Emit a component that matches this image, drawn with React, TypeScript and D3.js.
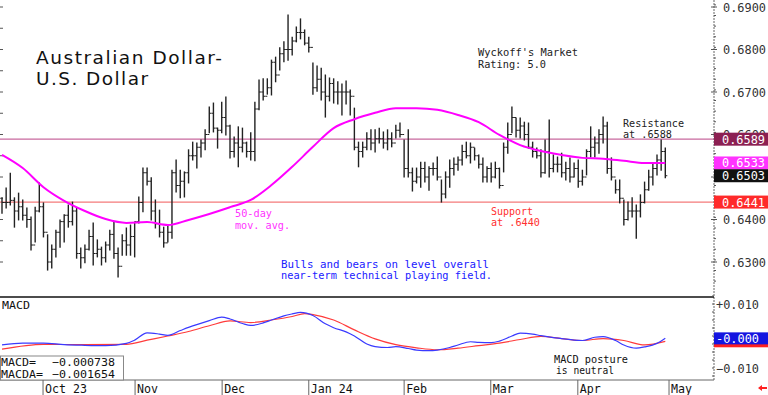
import * as d3 from "d3"

// daily bars, Sep 18 2023 .. Apr 30 2024 (one entry per bar)
const high = [
  .6451, .6474, .6509, .6451, .6462, .6446, .6427, .6406, .6429, .6486,
  .6439, .6364, .6340, .6375, .6399, .6411, .6434, .6441, .6427, .6333,
  .6340, .6375, .6392, .6352, .6335, .6347, .6375, .6394, .6333, .6364,
  .6380, .6387, .6394, .6453, .6521, .6521, .6498, .6446, .6422, .6382,
  .6387, .6516, .6540, .6516, .6512, .6564, .6582, .6580, .6587, .6611,
  .6665, .6674, .6615, .6676, .6688, .6622, .6594, .6618, .6615, .6582,
  .6604, .6676, .6728, .6731, .6731, .6775, .6782, .6804, .6818, .6881,
  .6829, .6853, .6872, .6846, .6829, .6768, .6761, .6756, .6740, .6733,
  .6731, .6724, .6719, .6726, .6705, .6662, .6582, .6582, .6604, .6611,
  .6611, .6615, .6606, .6611, .6604, .6622, .6627, .6587, .6611, .6521,
  .6521, .6535, .6535, .6524, .6533, .6547, .6493, .6512, .6540, .6545,
  .6547, .6575, .6582, .6580, .6568, .6552, .6545, .6524, .6533, .6535,
  .6521, .6580, .6627, .6665, .6639, .6639, .6629, .6627, .6582, .6568,
  .6564, .6587, .6634, .6552, .6547, .6556, .6535, .6545, .6533, .6540,
  .6516, .6564, .6618, .6594, .6611, .6641, .6629, .6545, .6493, .6493,
  .6446, .6441, .6451, .6434, .6458, .6488, .6516, .6533, .6552, .6587,
  .6568,
]
const low = [
  .6415, .6427, .6434, .6382, .6399, .6399, .6382, .6328, .6347, .6418,
  .6359, .6281, .6286, .6312, .6335, .6347, .6382, .6387, .6309, .6286,
  .6298, .6328, .6293, .6312, .6293, .6300, .6328, .6309, .6265, .6316,
  .6316, .6316, .6312, .6392, .6418, .6481, .6399, .6380, .6359, .6335,
  .6347, .6356, .6465, .6451, .6453, .6486, .6540, .6521, .6547, .6564,
  .6604, .6606, .6568, .6604, .6599, .6545, .6547, .6524, .6559, .6547,
  .6540, .6538, .6658, .6681, .6695, .6693, .6724, .6752, .6771, .6775,
  .6787, .6818, .6825, .6811, .6794, .6695, .6702, .6681, .6641, .6679,
  .6674, .6672, .6646, .6672, .6646, .6564, .6524, .6547, .6564, .6564,
  .6559, .6580, .6568, .6564, .6571, .6592, .6594, .6500, .6500, .6467,
  .6486, .6476, .6488, .6469, .6505, .6493, .6441, .6451, .6476, .6505,
  .6516, .6528, .6545, .6533, .6540, .6521, .6488, .6488, .6488, .6498,
  .6474, .6512, .6556, .6604, .6594, .6592, .6587, .6568, .6547, .6545,
  .6500, .6509, .6500, .6512, .6512, .6500, .6493, .6488, .6500, .6476,
  .6481, .6505, .6547, .6547, .6556, .6580, .6509, .6493, .6462, .6439,
  .6387, .6399, .6406, .6356, .6406, .6439, .6469, .6481, .6505, .6516,
  .6498,
]
const close = [
  .6440, .6440, .6445, .6420, .6430, .6410, .6400, .6340, .6420, .6430,
  .6370, .6300, .6330, .6370, .6395, .6410, .6395, .6420, .6320, .6310,
  .6330, .6360, .6320, .6330, .6310, .6340, .6365, .6320, .6290, .6350,
  .6340, .6360, .6395, .6440, .6510, .6490, .6420, .6390, .6370, .6345,
  .6370, .6510, .6480, .6490, .6510, .6550, .6550, .6570, .6580, .6600,
  .6650, .6615, .6610, .6640, .6620, .6560, .6580, .6570, .6580, .6560,
  .6560, .6660, .6700, .6690, .6710, .6770, .6740, .6790, .6800, .6800,
  .6820, .6840, .6840, .6815, .6805, .6710, .6730, .6700, .6690, .6720,
  .6700, .6700, .6700, .6700, .6690, .6570, .6560, .6570, .6590, .6580,
  .6590, .6590, .6580, .6590, .6580, .6610, .6600, .6520, .6510, .6490,
  .6500, .6520, .6500, .6520, .6520, .6500, .6460, .6500, .6520, .6530,
  .6540, .6560, .6550, .6570, .6550, .6530, .6500, .6520, .6500, .6520,
  .6480, .6570, .6600, .6640, .6610, .6620, .6600, .6570, .6560, .6550,
  .6510, .6560, .6520, .6530, .6530, .6510, .6520, .6500, .6520, .6490,
  .6500, .6560, .6570, .6580, .6600, .6620, .6520, .6500, .6470, .6450,
  .6400, .6420, .6420, .6420, .6440, .6470, .6500, .6520, .6540, .6560,
  .6503,
]

// 50-day moving average, read every 5 bars
const maIdx = d3.range(0, 161, 5)
const maVal = [
  .6552, .6521, .6476, .6444, .6420, .6401, .6392, .6394, .6387, .6399,
  .6413, .6429, .6446, .6481, .6524, .6571, .6615, .6636, .6651, .6662,
  .6662, .6658, .6646, .6629, .6599, .6575, .6561, .6552, .6545, .6543,
  .6538, .6533, .6533,
]

// MACD (blue) and its average (red)
const macdIdx = [0, 5, 10, 15, 20, 25, 30, 32, 35, 38, 40, 43, 45, 50, 53, 55, 58, 60, 63, 65,
  68, 70, 72, 75, 78, 80, 83, 85, 88, 90, 93, 95, 98, 100, 103, 105, 108, 110, 113, 115,
  118, 120, 123, 125, 128, 130, 133, 135, 138, 140, 143, 145, 148, 150, 153, 155, 158, 160]
const macdVal = [-.0028, -.0022, -.0022, -.0027, -.0029, -.0030, -.0023, -.0013, .0010, .0006,
  .0002, .0017, .0027, .0048, .0059, .0053, .0039, .0033, .0041, .0050,
  .0063, .0069, .0074, .0064, .0038, .0026, .0013, 0, -.0025, -.0033,
  -.0036, -.0033, -.0039, -.0044, -.0046, -.0044, -.0036, -.0028, -.0018, -.0020,
  -.0021, -.0016, 0, .0009, .0006, .0001, -.0005, -.0008, -.0013, -.0014,
  -.0004, -.0002, -.0014, -.0028, -.0038, -.0034, -.0023, -.0007]
const sigIdx = [0, 10, 20, 30, 35, 40, 45, 50, 55, 60, 65, 70, 73, 75, 80, 85, 90, 95, 100, 105,
  110, 115, 120, 125, 130, 135, 140, 145, 150, 155, 160]
const sigVal = [-.0041, -.0026, -.0027, -.0026, -.0013, 0, .0014, .0032, .0047, .0042,
  .0050, .0061, .0070, .0067, .0050, .0019, -.0009, -.0027, -.0037, -.0043,
  -.0038, -.0030, -.0022, -.0011, -.0001, -.0008, -.0014, -.0008, -.0014, -.0028,
  -.0017]

const monthLabels = ["Oct 23", "Nov", "Dec", "Jan 24", "Feb", "Mar", "Apr", "May"]
const monthIdx = [9.9, 32.1, 53.1, 74, 97, 117.9, 138.9, 160.9]
const priceTicks = [0.69, 0.68, 0.67, 0.66, 0.65, 0.64, 0.63]
const macdTicks = [0.01, -0.01]

const resistance = 0.6589
const support = 0.6441
const maLast = 0.6533
const lastClose = 0.6503
const macdLast = -0.000738
const macdaLast = -0.001654

const mono = "'DejaVu Sans Mono', monospace"

export default function App() {
  const x = d3.scaleLinear().domain([0, 160]).range([2, 665.3])
  const yP = d3.scaleLinear().domain([0.63, 0.69]).range([262, 7])
  const yM = d3.scaleLinear().domain([-0.01, 0.01]).range([368, 304])
  const axisX = 714

  const maLine = d3.line<number>()
    .x((_, i) => x(maIdx[i]))
    .y(d => yP(d))
    .curve(d3.curveMonotoneX)
  const macdLine = d3.line<number>()
    .x((_, i) => x(macdIdx[i]))
    .y(d => yM(d))
    .curve(d3.curveMonotoneX)
  const sigLine = d3.line<number>()
    .x((_, i) => x(sigIdx[i]))
    .y(d => yM(d))
    .curve(d3.curveMonotoneX)

  const fmt = d3.format(".4f")
  const minorP = d3.range(0.6255, 0.6905, 0.0025)
  const leftTicks = d3.range(0.63, 0.6901, 0.005)

  const priceBox = (v: number, fill: string, key: string) => (
    <g key={key}>
      <rect x={axisX} y={yP(v) - 6.5} width={768 - axisX} height={13} fill={fill} />
      <text x={722} y={yP(v) + 4.5} fill="#fff" fontSize={12} fontFamily={mono} textLength={43} lengthAdjust="spacingAndGlyphs">{fmt(v)}</text>
    </g>
  )

  return (
    <svg width={768} height={395} style={{ position: "absolute", left: 0, top: 0, background: "#fff" }}>
      <rect width={768} height={395} fill="#fff" />

      {/* support / resistance */}
      <line x1={0} x2={768} y1={yP(resistance)} y2={yP(resistance)} stroke="#c8699e" strokeWidth={1.2} />
      <line x1={0} x2={768} y1={yP(support)} y2={yP(support)} stroke="#f47a7a" strokeWidth={1.2} />

      {/* left minor ticks */}
      {leftTicks.map(v => (
        <line key={"lt" + v} x1={0} x2={3} y1={yP(v)} y2={yP(v)} stroke="#555" />
      ))}

      {/* price bars */}
      <g stroke="#222" strokeWidth={1.4}>
        {high.map((h, i) => (
          <g key={i}>
            <line x1={x(i)} x2={x(i)} y1={yP(h) - 0.5} y2={yP(low[i]) + 0.5} />
            {i > 0 && <line x1={x(i) - 2} x2={x(i)} y1={yP(close[i - 1])} y2={yP(close[i - 1])} strokeWidth={1} />}
            <line x1={x(i)} x2={x(i) + 2} y1={yP(close[i])} y2={yP(close[i])} strokeWidth={1} />
          </g>
        ))}
      </g>

      {/* moving average */}
      <path d={maLine(maVal) || ""} fill="none" stroke="#ff00ff" strokeWidth={2} />

      {/* annotations */}
      <text x={36} y={64} fontSize={18.5} fontFamily="'DejaVu Sans', sans-serif" fill="#111" textLength={186} lengthAdjust="spacing">Australian Dollar-</text>
      <text x={36} y={85} fontSize={18.5} fontFamily="'DejaVu Sans', sans-serif" fill="#111" textLength={112} lengthAdjust="spacing">U.S. Dollar</text>
      <g fontFamily={mono} fontSize={10.5} fill="#222">
        <text x={478} y={56} textLength={100} lengthAdjust="spacingAndGlyphs">Wyckoff's Market</text>
        <text x={478} y={68} textLength={68} lengthAdjust="spacingAndGlyphs">Rating: 5.0</text>
        <text x={623} y={127} textLength={61} lengthAdjust="spacingAndGlyphs">Resistance</text>
        <text x={623} y={138} textLength={49} lengthAdjust="spacingAndGlyphs">at .6588</text>
      </g>
      <g fontFamily={mono} fontSize={10.5} fill="#ff3030">
        <text x={491} y={215} textLength={42} lengthAdjust="spacingAndGlyphs">Support</text>
        <text x={491} y={226} textLength={49} lengthAdjust="spacingAndGlyphs">at .6440</text>
      </g>
      <g fontFamily={mono} fontSize={10.5} fill="#ff33ff">
        <text x={235} y={217} textLength={37} lengthAdjust="spacingAndGlyphs">50-day</text>
        <text x={235} y={229} textLength={55} lengthAdjust="spacingAndGlyphs">mov. avg.</text>
      </g>
      <g fontFamily={mono} fontSize={10.5} fill="#2020ff">
        <text x={281} y={268} textLength={208} lengthAdjust="spacingAndGlyphs">Bulls and bears on level overall</text>
        <text x={281} y={279} textLength={211} lengthAdjust="spacingAndGlyphs">near-term technical playing field.</text>
      </g>

      {/* right price axis */}
      <line x1={axisX} x2={axisX} y1={0} y2={380} stroke="#666" strokeDasharray="2,1" />
      {minorP.map(v => (
        <line key={"mp" + v} x1={axisX} x2={axisX + 2} y1={yP(v)} y2={yP(v)} stroke="#555" />
      ))}
      {priceTicks.map(v => (
        <g key={"pt" + v}>
          <line x1={axisX - 3} x2={axisX + 3} y1={yP(v)} y2={yP(v)} stroke="#555" />
          <text x={723} y={yP(v) + 4.5} fontSize={12} fontFamily={mono} fill="#333" textLength={43} lengthAdjust="spacingAndGlyphs">{fmt(v)}</text>
        </g>
      ))}
      {priceBox(resistance, "#8c2052", "r")}
      {priceBox(maLast, "#ff33ff", "m")}
      {priceBox(lastClose, "#111", "c")}
      {priceBox(support, "#ff2a2a", "s")}

      {/* MACD panel */}
      <line x1={0} x2={axisX} y1={297} y2={297} stroke="#111" strokeWidth={1.5} />
      <line x1={0} x2={axisX} y1={380} y2={380} stroke="#666" />
      <text x={2} y={309} fontSize={11} fontFamily={mono} fill="#111" textLength={28} lengthAdjust="spacingAndGlyphs">MACD</text>
      <path d={sigLine(sigVal) || ""} fill="none" stroke="#ff3b3b" strokeWidth={1.2} />
      <path d={macdLine(macdVal) || ""} fill="none" stroke="#3a3aff" strokeWidth={1.2} />
      {d3.range(-0.0125, 0.0126, 0.0025).map(v => (
        <line key={"mm" + v} x1={axisX - 2} x2={axisX} y1={yM(v)} y2={yM(v)} stroke="#555" />
      ))}
      {macdTicks.map(v => (
        <text key={"mt" + v} x={716} y={yM(v) + 4.5} fontSize={12} fontFamily={mono} fill="#333" textLength={43} lengthAdjust="spacingAndGlyphs">{(v > 0 ? "+" : "") + d3.format(".3f")(v)}</text>
      ))}
      <rect x={axisX} y={yM(macdaLast) - 6} width={768 - axisX} height={12} fill="#ff2020" />
      <rect x={axisX} y={yM(macdLast) - 6} width={768 - axisX} height={12} fill="#1515e0" />
      <text x={716} y={yM(macdLast) + 4.5} fontSize={12} fontFamily={mono} fill="#fff" textLength={43} lengthAdjust="spacingAndGlyphs">-0.000</text>

      <rect x={0.5} y={356} width={123} height={24} fill="#fff" stroke="#888" />
      <g fontFamily={mono} fontSize={10.5} fill="#111">
        <text x={1} y={366} textLength={35} lengthAdjust="spacingAndGlyphs">MACD=</text>
        <text x={52} y={366} textLength={63} lengthAdjust="spacingAndGlyphs">{d3.format(".6f")(macdLast)}</text>
        <text x={1} y={378} textLength={42} lengthAdjust="spacingAndGlyphs">MACDA=</text>
        <text x={52} y={378} textLength={63} lengthAdjust="spacingAndGlyphs">{d3.format(".6f")(macdaLast)}</text>
      </g>
      <g fontFamily={mono} fontSize={10.5} fill="#111">
        <text x={554} y={363} textLength={74} lengthAdjust="spacingAndGlyphs">MACD posture</text>
        <text x={556} y={374} textLength={58} lengthAdjust="spacingAndGlyphs">is neutral</text>
      </g>

      {/* month axis */}
      {monthLabels.map((m, i) => (
        <g key={m}>
          <line x1={x(monthIdx[i])} x2={x(monthIdx[i])} y1={380} y2={395} stroke="#666" />
          <text x={x(monthIdx[i]) + 2} y={393} fontSize={12.5} fontFamily={mono} fill="#111" textLength={m.length * 7} lengthAdjust="spacingAndGlyphs">{m}</text>
        </g>
      ))}
      <path d="M758,388 L762,385 L762,387 L767,387 L767,389 L762,389 L762,391 Z" fill="#ff2020" />
    </svg>
  )
}
